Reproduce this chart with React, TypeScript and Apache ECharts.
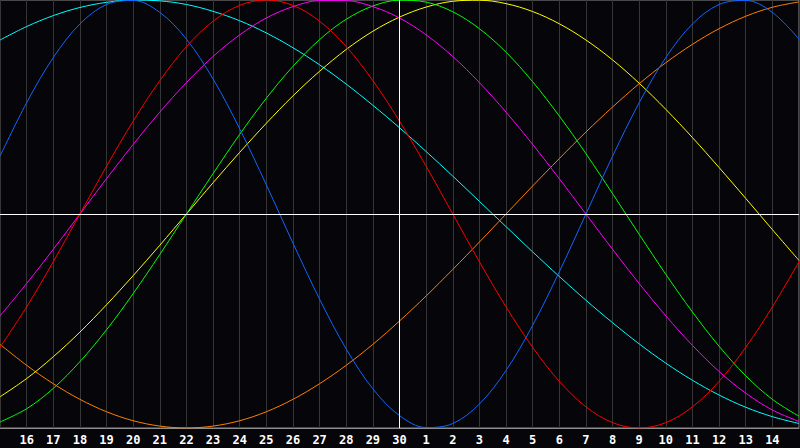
import React, { useEffect, useRef } from "react";
import * as echarts from "echarts";

const dayLabels = [
  "15", "16", "17", "18", "19", "20", "21", "22", "23", "24", "25", "26", "27", "28", "29", "30",
  "1", "2", "3", "4", "5", "6", "7", "8", "9", "10", "11", "12", "13", "14", "15",
];

const physical = [27.0, 52.0, 73.1, 88.8, 97.9, 99.8, 94.2, 81.7, 63.1, 39.8, 13.6, -13.6, -39.8, -63.1, -81.7, -94.2, -99.8, -97.9, -88.8, -73.1, -52.0, -27.0, 0, 27.0, 52.0, 73.1, 88.8, 97.9, 99.8, 94.2, 81.7];
const emotional = [-62.3, -43.4, -22.3, 0, 22.3, 43.4, 62.3, 78.2, 90.1, 97.5, 100, 97.5, 90.1, 78.2, 62.3, 43.4, 22.3, 0, -22.3, -43.4, -62.3, -78.2, -90.1, -97.5, -100, -97.5, -90.1, -78.2, -62.3, -43.4, -22.3];
const intuitive = [-47.6, -32.5, -16.5, 0, 16.5, 32.5, 47.6, 61.4, 73.6, 83.7, 91.6, 96.9, 99.7, 99.7, 96.9, 91.6, 83.7, 73.6, 61.4, 47.6, 32.5, 16.5, 0, -16.5, -32.5, -47.6, -61.4, -73.6, -83.7, -91.6, -96.9];
const intellectual = [-97.2, -91.0, -81.5, -69.0, -54.1, -37.2, -18.9, 0, 18.9, 37.2, 54.1, 69.0, 81.5, 91.0, 97.2, 99.9, 99.0, 94.5, 86.6, 75.6, 61.8, 45.8, 28.2, 9.5, -9.5, -28.2, -45.8, -61.8, -75.6, -86.6, -94.5];
const aesthetic = [-85.4, -76.9, -66.7, -55.2, -42.4, -28.8, -14.6, 0, 14.6, 28.8, 42.4, 55.2, 66.7, 76.9, 85.4, 92.0, 96.7, 99.4, 99.9, 98.3, 94.6, 88.9, 81.3, 72.0, 61.1, 48.9, 35.7, 21.7, 7.3, -7.3, -21.7];
const awareness = [-60.9, -70.7, -79.3, -86.6, -92.4, -96.6, -99.1, -100, -99.1, -96.6, -92.4, -86.6, -79.3, -70.7, -60.9, -50, -38.3, -25.9, -13.1, 0, 13.1, 25.9, 38.3, 50, 60.9, 70.7, 79.3, 86.6, 92.4, 96.6, 99.1];
const spiritual = [81.3, 87.6, 92.7, 96.5, 98.9, 100.0, 99.6, 97.9, 94.7, 90.3, 84.6, 77.7, 69.7, 60.7, 50.8, 40.3, 29.2, 17.7, 5.9, -5.9, -17.7, -29.2, -40.3, -50.8, -60.7, -69.7, -77.7, -84.6, -90.3, -94.7, -97.9];

const seriesDefs = [
  { name: "Spiritual", data: spiritual, color: "#00ffff" },
  { name: "Awareness", data: awareness, color: "#ff8000" },
  { name: "Aesthetic", data: aesthetic, color: "#ffff00" },
  { name: "Intellectual", data: intellectual, color: "#00ff00" },
  { name: "Intuitive", data: intuitive, color: "#ff00ff" },
  { name: "Emotional", data: emotional, color: "#ff0000" },
  { name: "Physical", data: physical, color: "#1166ff" },
];

export default function App() {
  const ref = useRef<HTMLDivElement>(null);
  useEffect(() => {
    document.body.style.margin = "0";
    if (!ref.current) return;
    const chart = echarts.init(ref.current, undefined, { renderer: "svg" });
    const series: any[] = seriesDefs.map((s) => ({
      name: s.name,
      type: "line",
      data: s.data.map((v, i) => [i, v]),
      smooth: 0.35,
      showSymbol: false,
      symbol: "none",
      lineStyle: { color: s.color, width: 1 },
      itemStyle: { color: s.color },
      silent: true,
      z: 3,
    }));
    series.push({
      name: "center",
      type: "line",
      data: [],
      z: 2,
      markLine: {
        silent: true,
        symbol: ["none", "none"],
        label: { show: false },
        lineStyle: { color: "#ffffff", width: 1, type: "solid" },
        data: [{ xAxis: 15 }, { yAxis: 0 }],
      },
    });
    chart.setOption({
      animation: false,
      backgroundColor: "#060509",
      grid: {
        left: 0,
        right: 1,
        top: 0,
        bottom: 20,
        show: true,
        borderColor: "#8c8c8c",
        borderWidth: 1,
        backgroundColor: "transparent",
      },
      xAxis: {
        type: "value",
        min: 0,
        max: 30,
        interval: 1,
        axisLine: { show: true, onZero: false, lineStyle: { color: "#8c8c8c", width: 1 } },
        axisTick: { show: false },
        splitLine: { show: true, lineStyle: { color: "#363636", width: 1 } },
        axisLabel: {
          showMinLabel: false,
          showMaxLabel: false,
          color: "#ffffff",
          fontFamily: "DejaVu Sans Mono",
          fontWeight: "bold",
          fontSize: 12,
          margin: 6,
          formatter: (v: number) => dayLabels[Math.round(v)] ?? "",
        },
      },
      yAxis: {
        type: "value",
        min: -100,
        max: 100,
        show: false,
        splitLine: { show: false },
      },
      series,
    });
    return () => chart.dispose();
  }, []);
  return <div ref={ref} style={{ width: 800, height: 448, background: "#060509" }} />;
}
